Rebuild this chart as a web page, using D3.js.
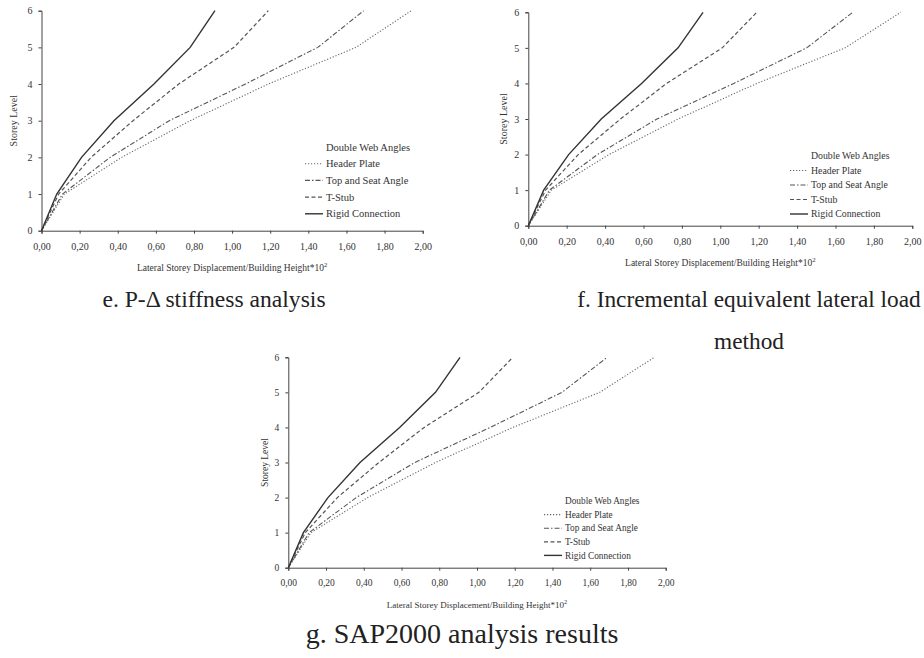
<!DOCTYPE html>
<html>
<head>
<meta charset="utf-8">
<script src="https://cdn.jsdelivr.net/npm/d3@7"></script>
<style>
  body { margin: 0; background: #fff; }
  svg text { font-family: "Liberation Serif", "Times New Roman", serif; }
</style>
</head>
<body>
<svg id="chart" width="924" height="658"></svg>
<script>
// storey levels (y) and drift ratio * 10^2 (x) for each connection type
const levels = [0, 1, 2, 3, 4, 5, 6];
const headerPlate = [0, 0.12, 0.42, 0.78, 1.19, 1.65, 1.94];
const topSeatAngle = [0, 0.11, 0.36, 0.67, 1.07, 1.45, 1.69];
const tStub = [0, 0.09, 0.26, 0.48, 0.72, 1.01, 1.19];
const rigid = [0, 0.08, 0.21, 0.38, 0.59, 0.78, 0.91];

const seriesNames = ["Header Plate", "Top and Seat Angle", "T-Stub", "Rigid Connection"];
const xTicks = [0, 0.2, 0.4, 0.6, 0.8, 1.0, 1.2, 1.4, 1.6, 1.8, 2.0];
const yTicks = [0, 1, 2, 3, 4, 5, 6];
const legendTitle = "Double Web Angles";

const svg = d3.select("#chart");
const serif = "Liberation Serif";

const styles = [
  { dash: "1.2,1.8", width: 1.1, color: "#666" },
  { dash: "5,2,1.5,2", width: 1.1, color: "#555" },
  { dash: "4,2.5", width: 1.2, color: "#555" },
  { dash: null, width: 1.4, color: "#333" }
];

const allSeries = [headerPlate, topSeatAngle, tStub, rigid];

const panels = [
  { x0: 41.5, x1: 422.7, y0: 230.7, y1: 10.7, tickFs: 10, titleFs: 9.5, yTitleX: 13,
    legX: 305, legTitleY: 147, legStep: 16.7, legFs: 10.5 },
  { x0: 528.3, x1: 912.3, y0: 225.7, y1: 12.3, tickFs: 10, titleFs: 9.5, yTitleX: 503,
    legX: 790, legTitleY: 156, legStep: 14.5, legFs: 9.8 },
  { x0: 288.3, x1: 665.7, y0: 567.7, y1: 357.3, tickFs: 9.5, titleFs: 9, yTitleX: 265,
    legX: 544, legTitleY: 501, legStep: 13.6, legFs: 9.3 }
];

const fmt = d => d3.format(".2f")(d).replace(".", ",");

panels.forEach(p => {
  const x = d3.scaleLinear().domain([0, 2]).range([p.x0, p.x1]);
  const y = d3.scaleLinear().domain([0, 6]).range([p.y0, p.y1]);
  const g = svg.append("g");

  const xAxis = g.append("g")
    .attr("transform", `translate(0,${p.y0})`)
    .call(d3.axisBottom(x).tickValues(xTicks).tickFormat(fmt).tickSize(3).tickPadding(9));
  const yAxis = g.append("g")
    .attr("transform", `translate(${p.x0},0)`)
    .call(d3.axisLeft(y).tickValues(yTicks).tickFormat(d3.format("d")).tickSize(3).tickPadding(6));

  [xAxis, yAxis].forEach(a => {
    a.attr("font-family", serif);
    a.select(".domain").attr("stroke", "#444").attr("stroke-width", 1);
    a.selectAll(".tick line").attr("stroke", "#444");
    a.selectAll("text").attr("font-family", serif).attr("font-size", p.tickFs).attr("fill", "#333");
  });

  // axis titles
  const xt = g.append("text")
    .attr("x", (p.x0 + p.x1) / 2)
    .attr("y", p.y0 + 40)
    .attr("text-anchor", "middle")
    .attr("font-family", serif)
    .attr("font-size", p.titleFs)
    .attr("fill", "#333");
  xt.append("tspan").text("Lateral Storey Displacement/Building Height*10");
  xt.append("tspan").attr("dy", -4).attr("font-size", p.titleFs * 0.7).text("2");

  g.append("text")
    .attr("transform", `translate(${p.yTitleX},${(p.y0 + p.y1) / 2}) rotate(-90)`)
    .attr("text-anchor", "middle")
    .attr("dy", "0.35em")
    .attr("font-family", serif)
    .attr("font-size", p.titleFs + 0.5)
    .attr("fill", "#333")
    .text("Storey Level");

  // curves
  const line = d3.line().x(d => x(d[0])).y(d => y(d[1]));
  allSeries.forEach((s, i) => {
    g.append("path")
      .datum(s.map((v, k) => [v, levels[k]]))
      .attr("d", line)
      .attr("fill", "none")
      .attr("stroke", styles[i].color)
      .attr("stroke-width", styles[i].width)
      .attr("stroke-dasharray", styles[i].dash);
  });

  // legend
  const leg = g.append("g").attr("font-family", serif);
  leg.append("text")
    .attr("x", p.legX + 21)
    .attr("y", p.legTitleY)
    .attr("dy", "0.35em")
    .attr("font-size", p.legFs)
    .attr("fill", "#333")
    .text(legendTitle);
  seriesNames.forEach((name, i) => {
    const ly = p.legTitleY + p.legStep * (i + 1);
    leg.append("line")
      .attr("x1", p.legX).attr("x2", p.legX + 18)
      .attr("y1", ly).attr("y2", ly)
      .attr("stroke", styles[i].color)
      .attr("stroke-width", styles[i].width)
      .attr("stroke-dasharray", styles[i].dash);
    leg.append("text")
      .attr("x", p.legX + 21)
      .attr("y", ly)
      .attr("dy", "0.35em")
      .attr("font-size", p.legFs)
      .attr("fill", "#333")
      .text(name);
  });
});

// captions
const captions = [
  { text: "e. P-\u0394 stiffness analysis", x: 214, y: 307, fs: 23.6 },
  { text: "f. Incremental equivalent lateral load", x: 749, y: 307, fs: 23.3 },
  { text: "method", x: 749, y: 349, fs: 23.3 },
  { text: "g. SAP2000 analysis results", x: 462, y: 643, fs: 28 }
];
svg.selectAll("text.caption")
  .data(captions)
  .join("text")
  .attr("class", "caption")
  .attr("x", d => d.x)
  .attr("y", d => d.y)
  .attr("text-anchor", "middle")
  .attr("font-family", serif)
  .attr("font-size", d => d.fs)
  .attr("fill", "#222")
  .text(d => d.text);
</script>
</body>
</html>
